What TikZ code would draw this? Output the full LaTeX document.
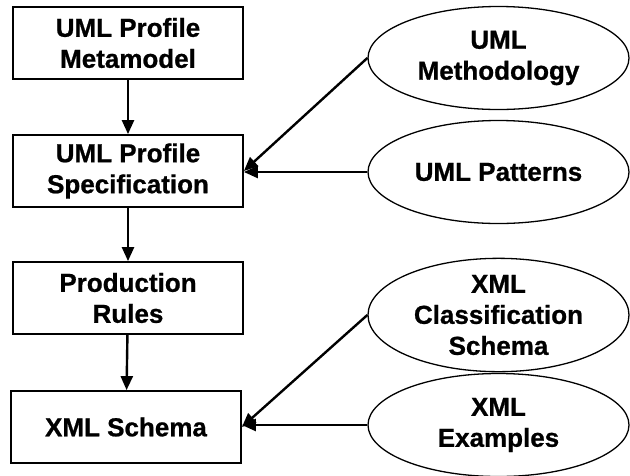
\documentclass[tikz,border=0pt]{standalone}
\usepackage{fontspec}
\setmainfont{Liberation Sans}[BoldFeatures={FakeBold=0.8}]
\usetikzlibrary{shapes.geometric,arrows.meta}
\tikzset{
  every node/.style={font=\fontsize{26}{31}\selectfont\bfseries, align=center, inner sep=0pt},
  stepbox/.style={draw, line width=1.8pt, minimum width=230pt, minimum height=72pt},
  source/.style={draw, ellipse, line width=1.3pt, minimum width=261pt, minimum height=103pt},
  flow/.style={line width=2.4pt, -{Triangle[length=14pt,width=12pt]}}
}
\begin{document}
\begin{tikzpicture}[x=1pt,y=-1pt]
\useasboundingbox (0,0) rectangle (630,475);
\node[stepbox] (meta) at (128,43) {UML Profile\\Metamodel};
\node[stepbox] (spec) at (128,171) {UML Profile\\Specification};
\node[stepbox] (rules) at (128,298) {Production\\Rules};
\node[stepbox] (xsd) at (126,427) {XML Schema};
\node[source] (meth) at (498.5,58) {UML\\Methodology};
\node[source] (pat) at (498.5,172) {UML Patterns};
\node[source] (cls) at (498.5,315) {XML\\Classification\\Schema};
\node[source] (ex) at (498.5,425) {XML\\Examples};
\draw[flow] (meta) -- (spec);
\draw[flow] (spec) -- (rules);
\draw[flow] (rules) -- (xsd);
\draw[flow] (meth.west) -- (spec.east);
\draw[flow] (pat.west) -- (pat.west -| spec.east);
\draw[flow] (cls.west) -- (xsd.east);
\draw[flow] (ex.west) -- (ex.west -| xsd.east);
\end{tikzpicture}
\end{document}
